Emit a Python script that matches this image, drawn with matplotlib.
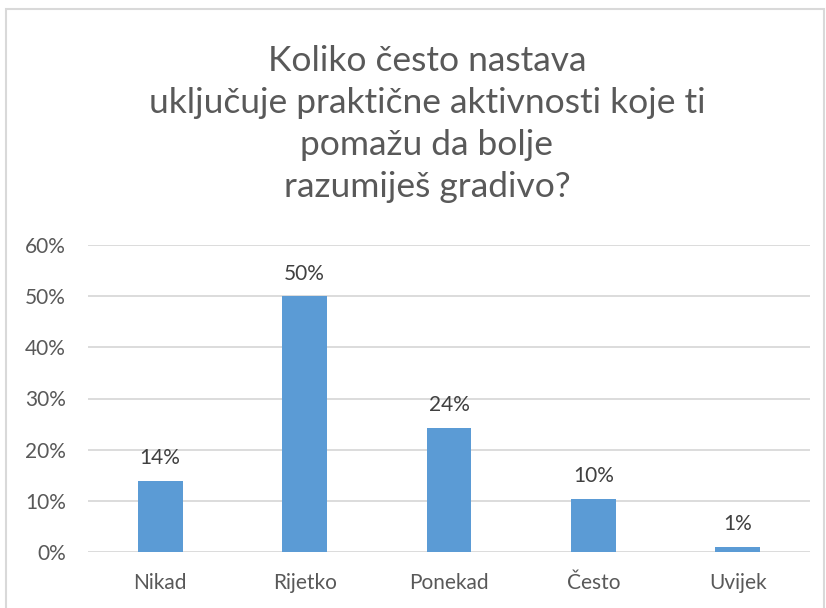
import matplotlib.pyplot as plt
from matplotlib.patches import Rectangle
from matplotlib.ticker import PercentFormatter

categories = ["Nikad", "Rijetko", "Ponekad", "Često", "Uvijek"]
values = [0.139, 0.50, 0.243, 0.104, 0.01]
labels = ["14%", "50%", "24%", "10%", "1%"]
title = "Koliko često nastava\nuključuje praktične aktivnosti koje ti\npomažu da bolje\nrazumiješ gradivo?"

plt.rcParams["font.family"] = ["Lato", "DejaVu Sans"]
text_color = "#595959"

W, H = 826, 608
fig = plt.figure(figsize=(W / 100, H / 100), dpi=100)

# chart border
fig.patches.append(Rectangle((6 / W, -0.05), (824 - 6) / W, 1.05 - 9 / H,
                             transform=fig.transFigure, fill=False,
                             edgecolor="#d9d9d9", linewidth=1.5))

ax = fig.add_axes([88 / W, 1 - 552 / H, (810 - 88) / W, (552 - 245) / H])
x = range(len(categories))
ax.bar(x, values, width=0.31, color="#5b9bd5", zorder=3)
for i, (v, lab) in enumerate(zip(values, labels)):
    ax.annotate(lab, (i, v), xytext=(0, 9), textcoords="offset points",
                ha="center", va="bottom", fontsize=15, color="#404040")

ax.set_xlim(-0.5, len(categories) - 0.5)
ax.set_ylim(0, 0.6)
ax.set_yticks([0, 0.1, 0.2, 0.3, 0.4, 0.5, 0.6])
ax.yaxis.set_major_formatter(PercentFormatter(1.0, decimals=0))
ax.set_xticks(list(x))
ax.set_xticklabels(categories)
ax.grid(axis="y", color="#d9d9d9", linewidth=1.3, zorder=0)
for s in ax.spines.values():
    s.set_visible(False)
ax.tick_params(length=0, labelsize=15, labelcolor=text_color)
ax.tick_params(axis="x", pad=15)
ax.tick_params(axis="y", pad=16)

fig.text(427 / W, 1 - 124 / H, title, ha="center", va="center", fontsize=25.5,
         color=text_color, linespacing=1.38)

fig.savefig("out.png", dpi=100)
